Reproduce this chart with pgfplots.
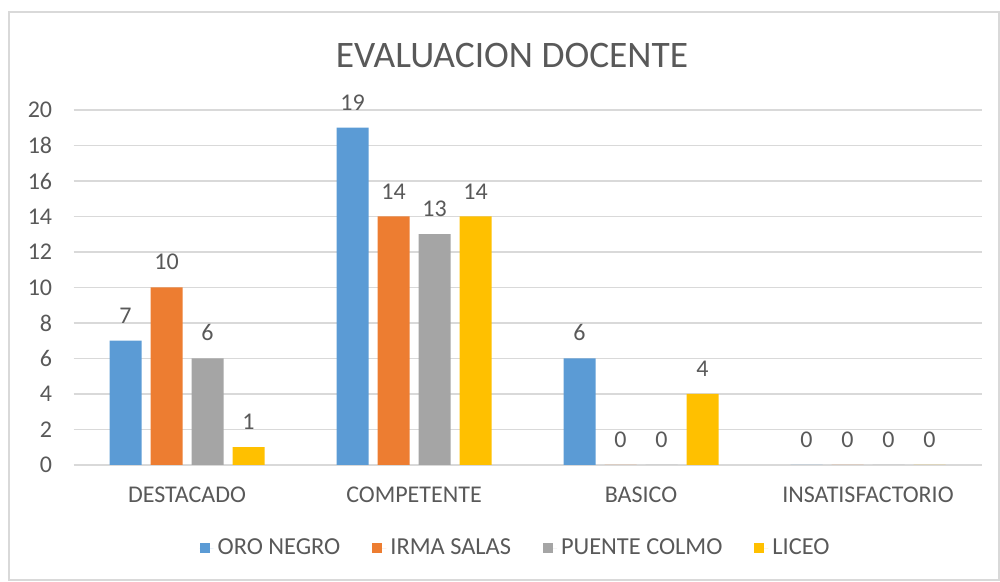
\documentclass[border=0pt]{standalone}
\usepackage{fontspec}
\setmainfont{Carlito}
\usepackage{pgfplots}
\pgfplotsset{compat=1.18}

\definecolor{cblue}{HTML}{5B9BD5}
\definecolor{corange}{HTML}{ED7D31}
\definecolor{cgray}{HTML}{A5A5A5}
\definecolor{cyellow}{HTML}{FFC000}
\definecolor{txt}{HTML}{595959}
\definecolor{gridc}{HTML}{D9D9D9}

\begin{document}
\begin{tikzpicture}
\useasboundingbox (0,0) rectangle (500pt,291pt);
\draw[gridc, line width=1pt] (4.5pt,1pt) rectangle (499.5pt,285pt);
\begin{axis}[
    at={(36.75pt,58.5pt)}, anchor=south west,
    scale only axis,
    width=454pt, height=177.5pt,
    ybar=4.5pt,
    bar width=16pt,
    xmin=-0.5, xmax=3.5,
    ymin=0, ymax=20,
    ytick={0,2,...,20},
    xtick=data,
    xticklabels={DESTACADO, COMPETENTE, BASICO, INSATISFACTORIO},
    axis line style={draw=none},
    major tick length=0pt,
    ymajorgrids,
    major grid style={gridc, line width=0.9pt},
    tick label style={font=\fontsize{12}{14}\selectfont, text=txt},
    /pgf/number format/assume math mode=true,
    yticklabel style={anchor=east, inner sep=0pt, xshift=-10.5pt},
    xticklabel style={anchor=north, inner sep=0pt, yshift=-11pt},
    title={EVALUACION DOCENTE},
    title style={at={(0.483,1.121)}, anchor=center, font=\fontsize{18.7}{22}\selectfont, text=txt},
    nodes near coords,
    every node near coord/.append style={font=\fontsize{12}{14}\selectfont, text=txt, inner sep=0pt, yshift=8.5pt},
    legend columns=4,
    legend style={at={(0.488,-0.234)}, anchor=center, draw=none, fill=none,
        font=\fontsize{12.2}{14}\selectfont, text=txt,
        /tikz/every even column/.append style={column sep=14pt}},
    legend image code/.code={\fill[#1] (0pt,-2.5pt) rectangle (5pt,2.5pt); \path (0pt,0pt) -- (7pt,0pt);},
]
\addplot[draw=none, fill=cblue] coordinates {(0,7) (1,19) (2,6) (3,0)};
\addplot[draw=none, fill=corange] coordinates {(0,10) (1,14) (2,0) (3,0)};
\addplot[draw=none, fill=cgray] coordinates {(0,6) (1,13) (2,0) (3,0)};
\addplot[draw=none, fill=cyellow] coordinates {(0,1) (1,14) (2,4) (3,0)};
\legend{ORO NEGRO, IRMA SALAS, PUENTE COLMO, LICEO}
\end{axis}
\end{tikzpicture}
\end{document}
